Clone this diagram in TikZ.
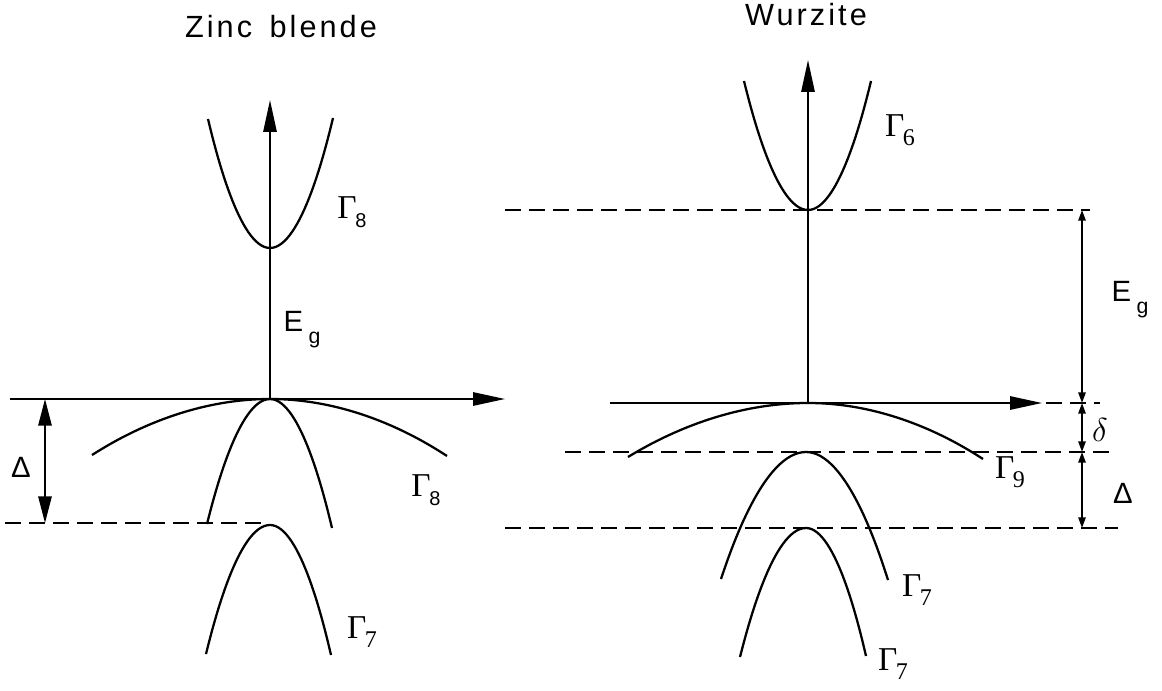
\documentclass[tikz,border=0pt]{standalone}
\usepackage{fontspec}
\newfontfamily\titlefont[LetterSpace=10]{Liberation Sans}
\newfontfamily\lblfont{Liberation Sans}
\newfontfamily\gfont{Liberation Serif}
\usetikzlibrary{arrows.meta}
\begin{document}
\begin{tikzpicture}[x=0.75pt,y=-0.75pt,
  band/.style={line width=1.7pt},
  axis/.style={line width=1.4pt,-{Triangle[length=24pt,width=10pt]}},
  dimbig/.style={line width=1.4pt,{Triangle[length=20pt,width=10pt]}-{Triangle[length=20pt,width=10pt]}},
  dimsmall/.style={line width=1.4pt,{Triangle[length=8pt,width=5.5pt]}-{Triangle[length=8pt,width=5.5pt]}},
  dashline/.style={line width=1.3pt,dash pattern=on 12pt off 6pt},
  title/.style={font=\titlefont\fontsize{23}{27}\selectfont},
  lbl/.style={font=\gfont\fontsize{25}{28}\selectfont},
  slbl/.style={font=\lblfont\fontsize{22}{26}\selectfont}]
\useasboundingbox (0,0) rectangle (1162,691);

% ---------- Zinc blende ----------
\node[title] (zbtitle) at (281,27) {Zinc\hspace{13pt}blende};
\coordinate (zbO) at (270,399);
\coordinate (zbUp) at (270,100);
\coordinate (zbL) at (10,399);
\coordinate (zbR) at (505,399);
\draw[axis] (zbO) -- (zbUp);
\draw[axis] (zbL) -- (zbR);
% conduction band
\coordinate (zbc1) at (208,119);
\coordinate (zbcv) at (270,248);
\coordinate (zbc2) at (333,118);
\draw[band] (zbc1) parabola bend (zbcv) (zbc2);
% heavy hole (wide)
\coordinate (zbh1) at (92,455);
\coordinate (zbh2) at (447,456);
\draw[band] (zbh1) parabola bend (zbO) (zbh2);
% light hole (narrow)
\coordinate (zbl1) at (207,524);
\coordinate (zbl2) at (332,528);
\draw[band] (zbl1) parabola bend (zbO) (zbl2);
% split-off
\coordinate (zbs1) at (206,654);
\coordinate (zbsv) at (270,525);
\coordinate (zbs2) at (331,655);
\draw[band] (zbs1) parabola bend (zbsv) (zbs2);
% dashed & Delta
\coordinate (zbd1) at (5,523);
\coordinate (zbd2) at (262,523);
\draw[dashline] (zbd1) -- (zbd2);
\coordinate (zbD1) at (45,399);
\coordinate (zbD2) at (45,523);
\draw[dimbig] (zbD1) -- (zbD2);
\node[slbl] (zbDl) at (21,467) {Δ};
\node[lbl] (zbG8c) at (352,212) {Γ\kern-1pt\raisebox{-7pt}{\lblfont\fontsize{15}{18}\selectfont 8}};
\node[slbl] (zbEg) at (302,330) {E\kern4pt\raisebox{-9pt}{\fontsize{16}{18}\selectfont g}};
\node[lbl] (zbG8v) at (426,490) {Γ\kern-1pt\raisebox{-7pt}{\lblfont\fontsize{15}{18}\selectfont 8}};
\node[lbl] (zbG7) at (362,632) {Γ\kern-1pt\raisebox{-7pt}{\fontsize{18}{20}\selectfont 7}};

% ---------- Wurzite ----------
\node[title] (wtitle) at (806,15) {Wurzite};
\coordinate (wO) at (808,403);
\coordinate (wUp) at (808,60);
\coordinate (wL) at (610,403);
\coordinate (wR) at (1042,403);
\draw[axis] (wO) -- (wUp);
\draw[axis] (wL) -- (wR);
\coordinate (wRd1) at (1046,403);
\coordinate (wRd2) at (1100,403);
\draw[dashline] (wRd1) -- (wRd2);
% conduction
\coordinate (wc1) at (744,81);
\coordinate (wcv) at (808,210);
\coordinate (wc2) at (871,81);
\draw[band] (wc1) parabola bend (wcv) (wc2);
% Gamma9
\coordinate (w91) at (628,457);
\coordinate (w92) at (983,459);
\draw[band] (w91) parabola bend (wO) (w92);
% upper Gamma7
\coordinate (w7a1) at (721,579);
\coordinate (w7av) at (806,452);
\coordinate (w7a2) at (888,580);
\draw[band] (w7a1) parabola bend (w7av) (w7a2);
% lower Gamma7
\coordinate (w7b1) at (740,657);
\coordinate (w7bv) at (806,528);
\coordinate (w7b2) at (866,656);
\draw[band] (w7b1) parabola bend (w7bv) (w7b2);
% dashed levels
\coordinate (wl1a) at (505,210); \coordinate (wl1b) at (1090,210);
\coordinate (wl2a) at (565,452); \coordinate (wl2b) at (1112,452);
\coordinate (wl3a) at (505,528); \coordinate (wl3b) at (1118,528);
\draw[dashline] (wl1a) -- (wl1b);
\draw[dashline] (wl2a) -- (wl2b);
\draw[dashline] (wl3a) -- (wl3b);
% dimension arrows
\coordinate (wE1) at (1082,210);
\coordinate (wE2) at (1082,403);
\coordinate (wE3) at (1082,452);
\coordinate (wE4) at (1082,528);
\draw[dimsmall] (wE1) -- (wE2);
\draw[dimsmall] (wE2) -- (wE3);
\draw[dimsmall] (wE3) -- (wE4);
\node[slbl] (wEg) at (1130,300) {E\kern4pt\raisebox{-9pt}{\fontsize{16}{18}\selectfont g}};
\node[font=\fontsize{24}{28}\selectfont] (wdl) at (1100,430) {$\delta$};
\node[slbl] (wDl) at (1123,493) {Δ};
\node[lbl] (wG6) at (900,130) {Γ\kern-1pt\raisebox{-7pt}{\fontsize{18}{20}\selectfont 6}};
\node[lbl] (wG9) at (1010,472) {Γ\kern-1pt\raisebox{-7pt}{\fontsize{18}{20}\selectfont 9}};
\node[lbl] (wG7a) at (917,590) {Γ\kern-1pt\raisebox{-7pt}{\fontsize{18}{20}\selectfont 7}};
\node[lbl] (wG7b) at (893,664) {Γ\kern-1pt\raisebox{-7pt}{\fontsize{18}{20}\selectfont 7}};
\end{tikzpicture}
\end{document}
